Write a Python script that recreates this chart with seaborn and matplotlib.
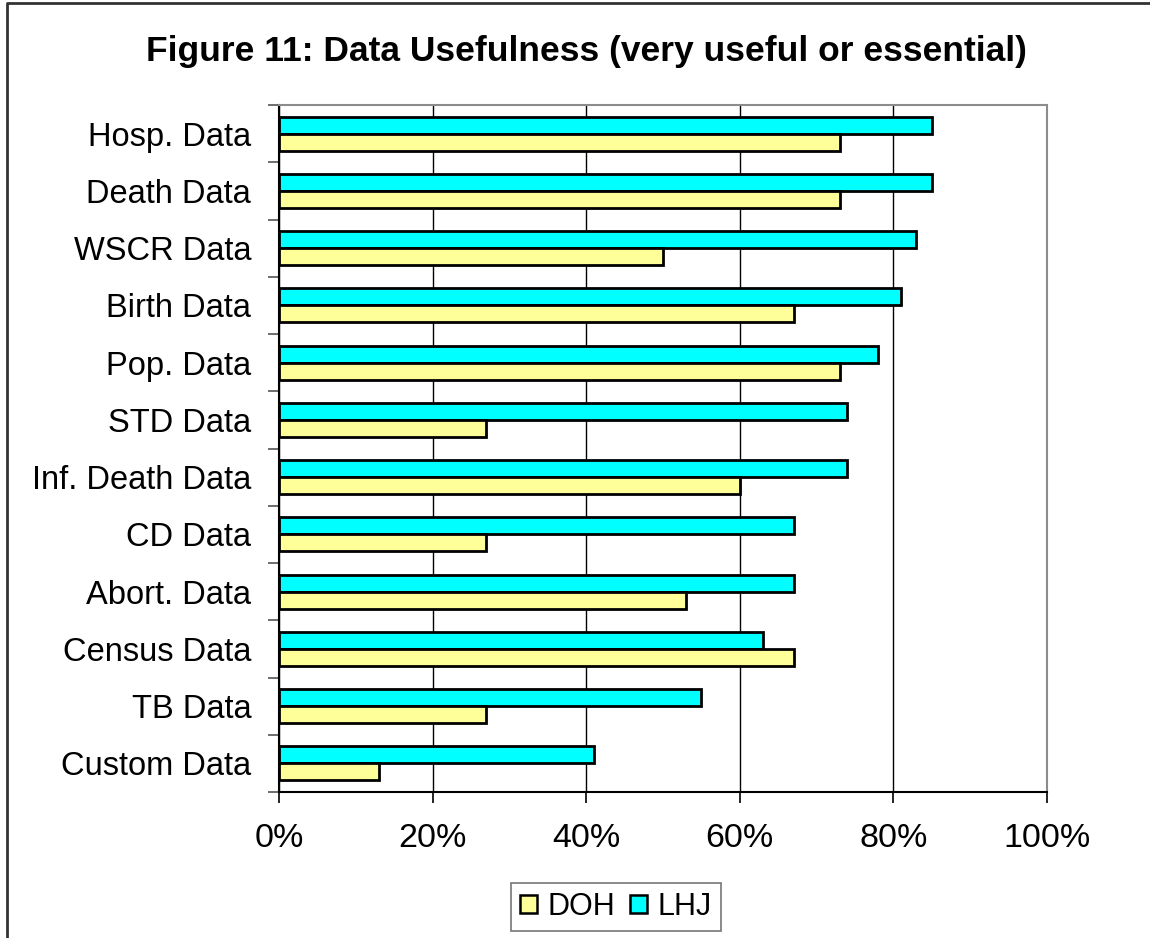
import matplotlib
matplotlib.use("Agg")
import matplotlib.pyplot as plt
from matplotlib.patches import Patch
from matplotlib.lines import Line2D
from matplotlib.ticker import FuncFormatter
import seaborn as sns
import pandas as pd
import numpy as np

categories = ["Hosp. Data", "Death Data", "WSCR Data", "Birth Data", "Pop. Data",
              "STD Data", "Inf. Death Data", "CD Data", "Abort. Data",
              "Census Data", "TB Data", "Custom Data"]
lhj = [85, 85, 83, 81, 78, 74, 74, 67, 67, 63, 55, 41]
doh = [73, 73, 50, 67, 73, 27, 60, 27, 53, 67, 27, 13]
x_ticks = [0, 20, 40, 60, 80, 100]

df = pd.DataFrame({
    "category": categories * 2,
    "group": ["LHJ"] * len(categories) + ["DOH"] * len(categories),
    "value": lhj + doh,
})

sns.set_style("white")
plt.rcParams["font.family"] = ["Liberation Sans", "DejaVu Sans"]
plt.rcParams["text.color"] = "black"
plt.rcParams["xtick.color"] = "black"
plt.rcParams["ytick.color"] = "black"

colors = {"DOH": "#FFFF99", "LHJ": "#00FFFF"}

fig = plt.figure(figsize=(11.5, 9.38), dpi=100)
ax = fig.add_axes([279 / 1150, 1 - 792 / 938, (1047 - 279) / 1150, (792 - 105) / 938])

sns.barplot(data=df, y="category", x="value", hue="group", order=categories,
            hue_order=["LHJ", "DOH"], palette=colors, saturation=1, orient="h",
            width=0.59, dodge=True, edgecolor="black", linewidth=2.0, legend=False,
            ax=ax, zorder=3)

ax.set_xlim(0, 100)
ax.set_ylim(len(categories) - 0.5, -0.5)
ax.set_xticks(x_ticks)
ax.xaxis.set_major_formatter(FuncFormatter(lambda v, p: f"{int(v)}%"))
ax.set_xlabel("")
ax.set_ylabel("")

# category labels without ticks; boundary ticks drawn as minor ticks
ax.set_yticks(range(len(categories)))
ax.set_yticklabels(categories)
ax.set_yticks(np.arange(-0.5, len(categories), 1.0), minor=True)
ax.tick_params(axis="y", which="major", length=0, pad=20, labelsize=23.5,
               labelcolor="black")
ax.tick_params(axis="y", which="minor", length=8, width=1.2, color="#555555",
               direction="out", left=True)
ax.tick_params(axis="x", which="major", length=8, width=1.2, color="black",
               direction="out", bottom=True, pad=14, labelsize=24.5,
               labelcolor="black")

ax.grid(axis="x", color="black", linewidth=1.0, zorder=0)
ax.grid(axis="y", visible=False)
ax.set_axisbelow(True)

for side in ["left", "bottom"]:
    ax.spines[side].set_color("black")
    ax.spines[side].set_linewidth(1.5)
for side in ["top", "right"]:
    ax.spines[side].set_color("#8c8c8c")
    ax.spines[side].set_linewidth(1.5)
    ax.spines[side].set_visible(True)

fig.text(0.5096, 1 - 52 / 938, "Figure 11: Data Usefulness (very useful or essential)",
         ha="center", va="center", fontsize=25.5, fontweight="bold", color="black")

handles = [Patch(facecolor=colors["DOH"], edgecolor="black", linewidth=1.8, label="DOH"),
           Patch(facecolor=colors["LHJ"], edgecolor="black", linewidth=1.8, label="LHJ")]
leg = fig.legend(handles=handles, loc="center", bbox_to_anchor=(616 / 1150, 1 - 907 / 938),
                 ncol=2, fontsize=22, frameon=True, fancybox=False, handlelength=0.55,
                 handleheight=0.55, handletextpad=0.35, columnspacing=0.5,
                 borderpad=0.3, borderaxespad=0)
leg.get_frame().set_edgecolor("#555555")
leg.get_frame().set_linewidth(1.2)

# outer chart frame
fig.add_artist(Line2D([7 / 1150, 7 / 1150, 1.0], [0.0, 1 - 3 / 938, 1 - 3 / 938],
                      transform=fig.transFigure, color="#333333", linewidth=2))

fig.savefig("out.png", dpi=100, facecolor="white")
